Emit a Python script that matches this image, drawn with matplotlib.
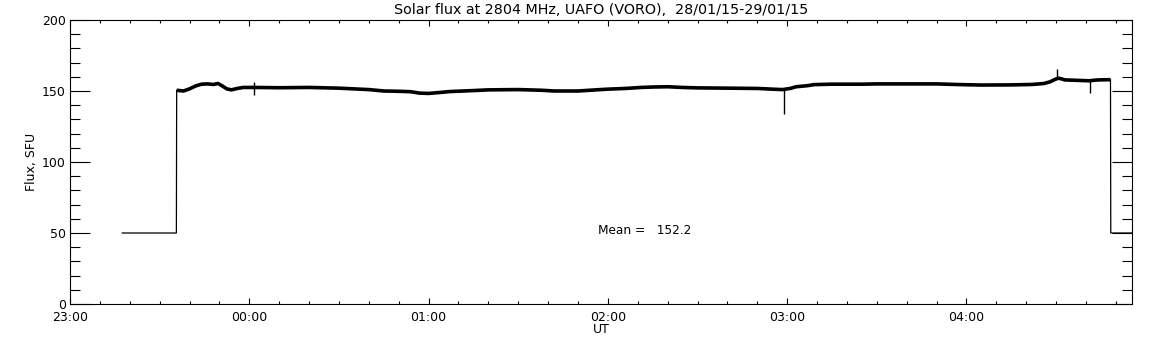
import matplotlib
matplotlib.use("Agg")
import matplotlib.pyplot as plt
from matplotlib.ticker import MultipleLocator, FixedLocator

# ---- data (minutes after 23:00 UT, flux in SFU) ----
off_left_t = [17.5, 35.6]
off_left_v = [50, 50]

band_t = [35.7, 38, 40, 42, 44, 46, 48, 49.5, 51, 52.5, 54, 56, 58, 62, 70, 80, 90, 95,
          100, 105, 110, 114, 117, 120, 124, 127, 135, 140, 150, 158, 162, 170, 176, 180,
          186, 191, 195, 200, 205, 210, 220, 230, 236, 238.5, 241, 243, 247, 249, 255, 265,
          270, 280, 290, 298, 305, 315, 322, 326, 328, 330, 331, 333, 337, 341, 344, 348.2]
band_v = [150.5, 150.0, 151.5, 153.5, 154.8, 155.0, 154.6, 155.3, 153.5, 151.5, 150.8, 151.8,
          152.5, 152.5, 152.3, 152.5, 152.0, 151.5, 151.0, 150.0, 149.8, 149.5, 148.5, 148.3,
          149.0, 149.6, 150.3, 150.8, 151.0, 150.5, 150.0, 150.0, 150.8, 151.3, 151.8, 152.5,
          152.8, 153.0, 152.5, 152.2, 152.0, 151.8, 151.2, 151.0, 151.8, 153.0, 153.8, 154.5,
          154.8, 154.8, 155.0, 155.0, 155.0, 154.5, 154.2, 154.3, 154.6, 155.3, 156.5, 158.5,
          159.0, 157.8, 157.5, 157.2, 157.8, 158.0]

off_right_t = [348.3, 355.3]
off_right_v = [50, 50]

spike_t = [61.6, 239.0, 330.3, 341.3]
spike_lo = [147.0, 133.5, 159.0, 148.5]
spike_hi = [156.5, 151.0, 165.5, 157.5]

xtick_pos = [0, 60, 120, 180, 240, 300]
xtick_labels = ["23:00", "00:00", "01:00", "02:00", "03:00", "04:00"]
mean_value = 152.2

title = "Solar flux at 2804 MHz, UAFO (VORO),  28/01/15-29/01/15"

# ---- figure ----
plt.rcParams['font.family'] = ['DejaVu Sans']
fig = plt.figure(figsize=(11.52, 3.45), dpi=100)
ax = fig.add_axes([70/1152, 41/345, 1061.7/1152, 284/345])

lw_thin = 0.9
ax.plot(off_left_t + [band_t[0]], off_left_v + [band_v[0]], color='black', lw=lw_thin,
        solid_joinstyle='miter')
ax.plot([band_t[-1]] + off_right_t, [band_v[-1]] + off_right_v, color='black', lw=lw_thin,
        solid_joinstyle='miter')
ax.plot(band_t, band_v, color='black', lw=2.6, solid_capstyle='butt')
ax.vlines(spike_t, spike_lo, spike_hi, color='black', lw=1.0)

ax.set_xlim(0, 355.3)
ax.set_ylim(0, 200)

ax.xaxis.set_major_locator(FixedLocator(xtick_pos))
ax.set_xticklabels(xtick_labels)
ax.xaxis.set_minor_locator(MultipleLocator(10))
ax.yaxis.set_major_locator(MultipleLocator(50))
ax.yaxis.set_minor_locator(MultipleLocator(10))

ax.tick_params(axis='both', which='both', direction='in', top=True, right=True,
               width=0.8, color='black', labelsize=9)
ax.tick_params(axis='x', which='major', length=4.0, pad=5)
ax.tick_params(axis='x', which='minor', length=2.0)
ax.tick_params(axis='y', which='major', length=14.5, pad=3)
ax.tick_params(axis='y', which='minor', length=7.5)
for s in ax.spines.values():
    s.set_linewidth(0.8)

ax.set_xlabel("UT", fontsize=9, labelpad=-1)
ax.set_ylabel("Flux, SFU", fontsize=9, labelpad=3)
ax.set_title(title, fontsize=10.3, pad=4)

ax.text(0.497, 0.26, "Mean =   %.1f" % mean_value, transform=ax.transAxes,
        fontsize=8.7, ha='left', va='center')

fig.savefig("out.png", dpi=100)
